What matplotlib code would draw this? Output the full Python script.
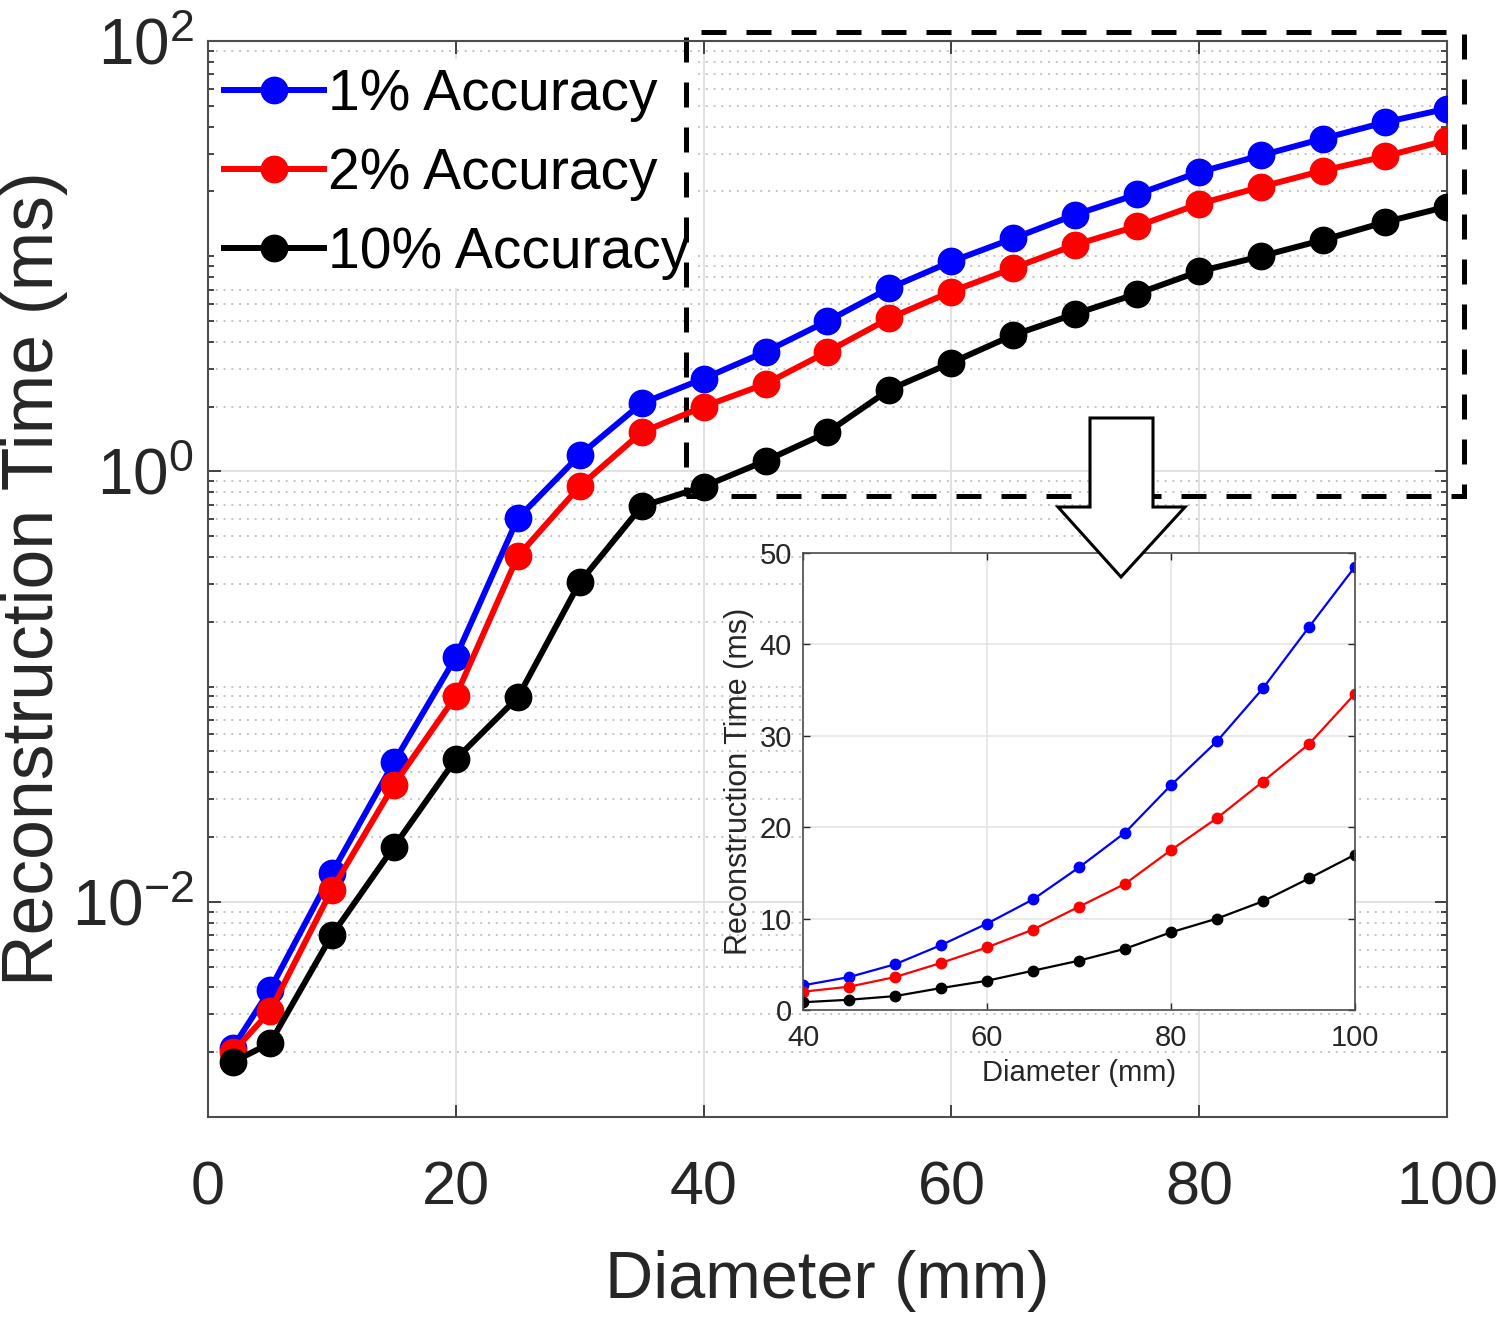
import matplotlib
matplotlib.use('Agg')
import matplotlib.pyplot as plt
import numpy as np
from matplotlib.patches import Rectangle, Polygon
from matplotlib.ticker import FixedLocator, FixedFormatter, LogLocator, NullFormatter

# data (times in ms)
diameter = [2, 5, 10, 15, 20, 25, 30, 35, 40, 45, 50, 55, 60, 65, 70, 75, 80, 85, 90, 95, 100]
acc_1 = [0.0021, 0.0039, 0.0136, 0.0445, 0.137, 0.605, 1.19, 2.07, 2.7, 3.6, 5.0, 7.1,
         9.45, 12.1, 15.6, 19.4, 24.6, 29.4, 35.2, 41.9, 48.5]
acc_2 = [0.0020, 0.0031, 0.0114, 0.0349, 0.0904, 0.403, 0.852, 1.52, 2.0, 2.55, 3.6, 5.15,
         6.85, 8.8, 11.3, 13.8, 17.5, 21.0, 25.0, 29.1, 34.6]
acc_10 = [0.0018, 0.0022, 0.0070, 0.018, 0.046, 0.089, 0.305, 0.688, 0.85, 1.12, 1.52, 2.4,
          3.2, 4.3, 5.4, 6.7, 8.5, 10.0, 11.9, 14.4, 17.0]
labels = ['1% Accuracy', '2% Accuracy', '10% Accuracy']
colors = ['#0000ff', '#ff0000', '#000000']

main_xticks = [0, 20, 40, 60, 80, 100]
main_yticks = [1e-2, 1e0, 1e2]
main_yticklabels = [r'$\mathregular{10^{-2}}$', r'$\mathregular{10^{0}}$', r'$\mathregular{10^{2}}$']
inset_xticks = [40, 60, 80, 100]
inset_yticks = [0, 10, 20, 30, 40, 50]

plt.rcParams['font.family'] = ['Liberation Sans', 'DejaVu Sans']
plt.rcParams['mathtext.fontset'] = 'custom'
plt.rcParams['mathtext.rm'] = 'Liberation Sans'
plt.rcParams['mathtext.it'] = 'Liberation Sans'
plt.rcParams['mathtext.bf'] = 'Liberation Sans'

txt = '#262626'
W, H = 1500, 1317
fig = plt.figure(figsize=(15, 13.17), dpi=100)

# main log plot
ax = fig.add_axes([208 / W, 1 - 1117 / H, 1239 / W, 1076 / H])
for ys, c, lab in zip([acc_1, acc_2, acc_10], colors, labels):
    ax.plot(diameter, ys, '-o', color=c, lw=4.3, ms=19, label=lab, zorder=3)
ax.set_yscale('log')
ax.set_xlim(0, 100)
ax.set_ylim(1e-3, 1e2)
ax.set_xticks(main_xticks)
ax.yaxis.set_major_locator(FixedLocator(main_yticks))
ax.yaxis.set_major_formatter(FixedFormatter(main_yticklabels))
ax.yaxis.set_minor_locator(LogLocator(base=10, subs=np.arange(1, 10), numticks=30))
ax.yaxis.set_minor_formatter(NullFormatter())
ax.grid(True, which='major', color='#dedede', lw=1.3)
ax.grid(True, which='minor', axis='y', color='#c4c4c4', lw=1.4, ls=(0, (1, 3)))
ax.tick_params(which='both', direction='in', top=True, right=True, colors=txt, width=1.2)
ax.tick_params(which='major', length=9)
ax.tick_params(which='minor', length=4.5)
ax.tick_params(axis='x', labelsize=44, pad=31)
ax.tick_params(axis='y', labelsize=46, pad=10)
for s in ax.spines.values():
    s.set_color('#4d4d4d')
    s.set_linewidth(1.5)
ax.set_xlabel('Diameter (mm)', fontsize=48, color=txt, labelpad=24)
ax.set_ylabel('Reconstruction Time (ms)', fontsize=51.5, color=txt)
ax.yaxis.set_label_coords(-0.113, 0.5)

leg = ax.legend(loc='upper left', bbox_to_anchor=(0.006, 0.983), fontsize=41,
                handlelength=1.75, handletextpad=0.08, labelspacing=0.44,
                borderpad=0.15, borderaxespad=0, frameon=True, fancybox=False)
leg.get_frame().set_edgecolor('none')
leg.get_frame().set_facecolor('white')
leg.get_frame().set_alpha(1)
leg.set_zorder(2)

# dashed box marking the zoomed region
box = Rectangle((38.6, 0.77), 62.8, 110 - 0.77, fill=False, ec='black', lw=3.6,
                ls=(0, (5, 4)), clip_on=False, zorder=2.5)
ax.add_patch(box)

# inset on a linear scale
sel = np.array(diameter) >= 40
ax2 = fig.add_axes([803 / W, 1 - 1010 / H, 552 / W, 457 / H], zorder=10)
for ys, c in zip([acc_1, acc_2, acc_10], colors):
    ax2.plot(np.array(diameter)[sel], np.array(ys)[sel], '-o', color=c, lw=1.6, ms=7.5)
ax2.set_xlim(40, 100)
ax2.set_ylim(0, 50)
ax2.set_xticks(inset_xticks)
ax2.set_yticks(inset_yticks)
ax2.grid(True, color='#e3e3e3', lw=1.1)
ax2.tick_params(direction='in', top=True, right=True, colors=txt, length=5, width=1,
                labelsize=21)
ax2.tick_params(axis='x', pad=10)
ax2.tick_params(axis='y', pad=8)
for s in ax2.spines.values():
    s.set_color('#4d4d4d')
    s.set_linewidth(1.2)
ax2.set_xlabel('Diameter (mm)', fontsize=21, color=txt, labelpad=5)
ax2.set_ylabel('Reconstruction Time (ms)', fontsize=22, color=txt, labelpad=4)

# hollow arrow pointing to the inset
arrow_px = [(1090, 418), (1153, 418), (1153, 507), (1185, 507), (1121, 577),
            (1058, 507), (1090, 507)]
arrow = Polygon([(x / W, 1 - y / H) for x, y in arrow_px], closed=True,
                facecolor='white', edgecolor='black', lw=2.2,
                transform=fig.transFigure, zorder=11)
fig.add_artist(arrow)

fig.savefig('out.png', dpi=100)
